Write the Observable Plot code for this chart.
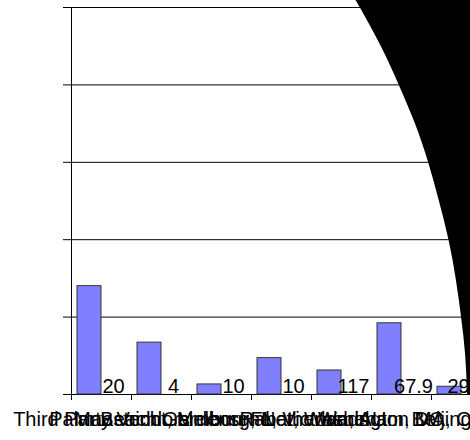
<!DOCTYPE html>
<html><head><meta charset="utf-8">
<script src="https://cdn.jsdelivr.net/npm/d3@7"></script>
<script src="https://cdn.jsdelivr.net/npm/@observablehq/plot@0.6"></script>
<style>
html,body{margin:0;padding:0;background:#fff;overflow:hidden;}
#chart svg{overflow:hidden;display:block;}
</style></head><body>
<div id="chart"></div>
<script>
// Categories (overlapping long labels in the original)
const categories = ["Third Party Vendors", "Palm Beach Gardens, FL", "Maastricht, Limburg, Netherlands", "Melbourne, Victoria, AU", "Rabat, Washington DC", "Wareham, MA, CN", "Beijing, CN"];
// Bar heights (axis has no tick labels; units read off 5 gridline steps of 100)
const barValues = [140, 67, 13, 47, 31, 92, 10];
// Data labels printed next to each bar
const valueLabels = ["20", "4", "10", "10", "117", "67.9", "29"];
// Y gridline values
const yTicks = [0, 100, 200, 300, 400, 500];
// Category boundaries on the x axis
const xTicks = [0, 1, 2, 3, 4, 5, 6, 7];
// Black shape on the right: its left boundary (x in category units) at each y value
const shapeY = [509, 500, 450, 400, 350, 300, 250, 200, 150, 100, 50, 0];
const shapeX = [4.74, 4.81, 5.16, 5.46, 5.73, 5.95, 6.13, 6.29, 6.41, 6.5, 6.57, 6.6];

const bars = categories.map((c, i) => ({i, category: c, value: barValues[i], label: valueLabels[i]}));
const shape = shapeY.map((y, i) => ({y, x: shapeX[i]}));

const chart = Plot.plot({
  width: 470,
  height: 440,
  marginTop: 7,
  marginBottom: 46,
  marginLeft: 71,
  marginRight: 0,
  style: {fontFamily: "'Liberation Sans', Arial, sans-serif", background: "#fff", color: "#000"},
  x: {domain: [0, 7], range: [71, 491], ticks: xTicks, tickSize: 6, tickFormat: () => "", label: null},
  y: {domain: [0, 500], range: [394, 7], ticks: yTicks, tickSize: 8, tickFormat: () => "", label: null},
  marks: [
    Plot.ruleY(yTicks, {stroke: "#000", strokeWidth: 1}),
    Plot.ruleX([0], {y1: 0, y2: 500, stroke: "#000"}),
    Plot.rectY(bars, {x1: d => d.i + 0.1, x2: d => d.i + 0.5, y1: 0, y2: "value", fill: "#8080ff", stroke: "#333", strokeWidth: 1}),
    Plot.text(bars, {x: d => Math.min(d.i + 0.7, 6.45), y: 0, text: "label", dy: -2, lineAnchor: "bottom", textAnchor: "middle", fontSize: 20, fill: "#000"}),
    Plot.areaX(shape, {y: "y", x1: "x", x2: 7.5, curve: "natural", fill: "#000"}),
    Plot.text(bars, {x: d => d.i + 0.5, y: 0, text: "category", dy: 31, lineAnchor: "bottom", textAnchor: "middle", fontSize: 20, fill: "#000"})
  ]
});
document.getElementById("chart").appendChild(chart);
</script>
</body></html>
